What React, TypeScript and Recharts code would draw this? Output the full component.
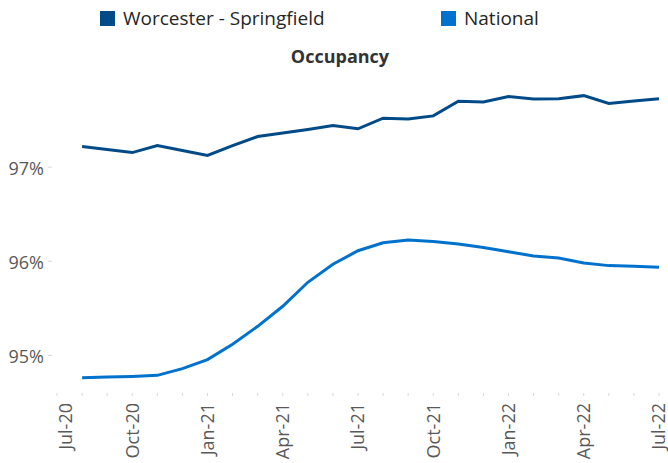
import React from 'react';
import { LineChart, Line, XAxis, YAxis } from 'recharts';

const months = [
  'Jul-20', 'Aug-20', 'Sep-20', 'Oct-20', 'Nov-20', 'Dec-20',
  'Jan-21', 'Feb-21', 'Mar-21', 'Apr-21', 'May-21', 'Jun-21',
  'Jul-21', 'Aug-21', 'Sep-21', 'Oct-21', 'Nov-21', 'Dec-21',
  'Jan-22', 'Feb-22', 'Mar-22', 'Apr-22', 'May-22', 'Jun-22', 'Jul-22',
];

const worcester: (number | null)[] = [
  null, 97.229, 97.197, 97.165, 97.241, 97.188,
  97.135, 97.238, 97.335, 97.372, 97.41, 97.452,
  97.418, 97.531, 97.523, 97.555, 97.711, 97.703,
  97.76, 97.735, 97.738, 97.77, 97.686, 97.714, 97.738,
];

const national: (number | null)[] = [
  null, 94.773, 94.78, 94.787, 94.798, 94.869,
  94.965, 95.128, 95.319, 95.532, 95.787, 95.979,
  96.122, 96.207, 96.235, 96.221, 96.193, 96.157,
  96.112, 96.066, 96.045, 95.993, 95.964, 95.957, 95.947,
];

const yTicks = [95, 96, 97];

const seriesNames = ['Worcester - Springfield', 'National'];
const seriesColors = ['#004B87', '#0072CE'];

const data = months.map((m, i) => ({
  month: m,
  worcester: worcester[i],
  national: national[i],
}));

const FONT = '"Open Sans", "Noto Sans", sans-serif';

const XTick = (props: any) => {
  const { x, y, payload, index } = props;
  const show = index % 3 === 0;
  const lx = index === 0 ? x + 9 : x;
  return (
    <g>
      <line x1={x} x2={x} y1={y - 1} y2={y + 2} stroke="#d9d9d9" strokeWidth={1} />
      {show && (
        <text
          x={lx}
          y={y + 9}
          dy="0.36em"
          textAnchor="end"
          transform={`rotate(-90, ${lx}, ${y + 9})`}
          fill="#595959"
          fontSize={18}
          fontFamily={FONT}
        >
          {payload.value}
        </text>
      )}
    </g>
  );
};

const YTick = (props: any) => {
  const { x, y, payload } = props;
  return (
    <g>
      <line x1={x + 4} x2={x + 8} y1={y - 1} y2={y - 1} stroke="#d9d9d9" strokeWidth={1} />
      <text
        x={x}
        y={y}
        dy="0.36em"
        textAnchor="end"
        fill="#595959"
        fontSize={18}
        fontFamily={FONT}
      >
        {`${payload.value}%`}
      </text>
    </g>
  );
};

export default function App() {
  return (
    <div style={{ position: 'absolute', left: 0, top: 0, width: 668, height: 463, background: '#fff' }}>
      <div
        style={{
          position: 'absolute',
          top: 6,
          left: 0,
          fontFamily: FONT,
          fontSize: 19,
          color: '#262626',
        }}
      >
        {seriesNames.map((n, i) => (
          <div
            key={n}
            style={{
              position: 'absolute',
              left: i === 0 ? 100 : 441,
              display: 'flex',
              alignItems: 'center',
              whiteSpace: 'nowrap',
            }}
          >
            <span
              style={{
                display: 'inline-block',
                width: 15,
                height: 15,
                background: seriesColors[i],
                marginRight: 8,
              }}
            />
            <span style={{ lineHeight: '24px' }}>{n}</span>
          </div>
        ))}
      </div>
      <div
        style={{
          position: 'absolute',
          top: 44,
          left: 0,
          width: 680,
          textAlign: 'center',
          fontFamily: FONT,
          fontSize: 18,
          fontWeight: 700,
          color: '#333333',
        }}
      >
        Occupancy
      </div>
      <div style={{ position: 'absolute', left: 0, top: 0 }}>
        <LineChart
          width={668}
          height={463}
          data={data}
          margin={{ top: 74, right: 9, bottom: 0, left: 0 }}
        >
          <XAxis
            dataKey="month"
            interval={0}
            axisLine={false}
            tickLine={false}
            tickSize={0}
            tickMargin={0}
            height={69}
            padding={{ left: 0, right: 0 }}
            tick={<XTick />}
          />
          <YAxis
            type="number"
            domain={[94.6, 98]}
            ticks={yTicks}
            width={57}
            axisLine={false}
            tickLine={false}
            tickSize={0}
            tickMargin={13}
            tick={<YTick />}
          />
          <Line
            type="linear"
            dataKey="worcester"
            stroke={seriesColors[0]}
            strokeWidth={3}
            dot={false}
            isAnimationActive={false}
            connectNulls={false}
          />
          <Line
            type="linear"
            dataKey="national"
            stroke={seriesColors[1]}
            strokeWidth={3}
            dot={false}
            isAnimationActive={false}
            connectNulls={false}
          />
        </LineChart>
      </div>
    </div>
  );
}
